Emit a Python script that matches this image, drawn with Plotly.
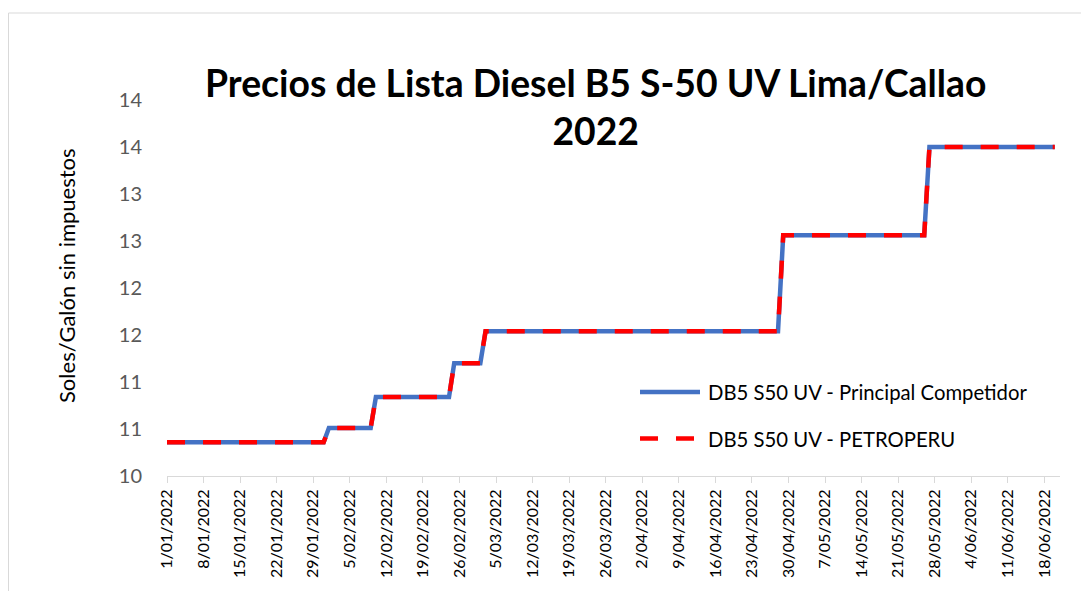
import plotly.graph_objects as go

# ---- data ----
fechas = ['2022-01-01', '2022-01-31', '2022-02-01', '2022-02-09', '2022-02-10',
          '2022-02-24', '2022-02-25', '2022-03-02', '2022-03-03', '2022-04-28',
          '2022-04-29', '2022-05-26', '2022-05-27', '2022-06-20']
principal_competidor = [10.36, 10.36, 10.51, 10.51, 10.84, 10.84, 11.20, 11.20,
                        11.54, 11.54, 12.56, 12.56, 13.50, 13.50]
petroperu = [10.36, 10.36, 10.51, 10.51, 10.84, 10.84, 11.20, 11.20,
             11.54, 11.54, 12.56, 12.56, 13.50, 13.50]

x_tickvals = ['2022-01-01', '2022-01-08', '2022-01-15', '2022-01-22', '2022-01-29',
              '2022-02-05', '2022-02-12', '2022-02-19', '2022-02-26', '2022-03-05',
              '2022-03-12', '2022-03-19', '2022-03-26', '2022-04-02', '2022-04-09',
              '2022-04-16', '2022-04-23', '2022-04-30', '2022-05-07', '2022-05-14',
              '2022-05-21', '2022-05-28', '2022-06-04', '2022-06-11', '2022-06-18']
x_ticktext = ['1/01/2022', '8/01/2022', '15/01/2022', '22/01/2022', '29/01/2022',
              '5/02/2022', '12/02/2022', '19/02/2022', '26/02/2022', '5/03/2022',
              '12/03/2022', '19/03/2022', '26/03/2022', '2/04/2022', '9/04/2022',
              '16/04/2022', '23/04/2022', '30/04/2022', '7/05/2022', '14/05/2022',
              '21/05/2022', '28/05/2022', '4/06/2022', '11/06/2022', '18/06/2022']
y_tickvals = [10, 10.5, 11, 11.5, 12, 12.5, 13, 13.5, 14]
y_ticktext = ['10', '11', '11', '12', '12', '13', '13', '14', '14']

serie_1 = 'DB5 S50 UV - Principal Competidor'
serie_2 = 'DB5 S50 UV - PETROPERU'
titulo = 'Precios de Lista Diesel B5 S-50 UV Lima/Callao<br>2022'
titulo_y = 'Soles/Galón sin impuestos'

# ---- layout geometry (page pixels; figure sits 8px in from the page edge) ----
OFF = 8
W, H = 1089 - 2 * OFF, 599 - 2 * OFF
L, R, T, B = 167 - OFF, 1060 - OFF, 100 - OFF, 476 - OFF
pw, ph = R - L, B - T

def px(x):
    return (x - OFF - L) / pw

def py(y):
    return (B - (y - OFF)) / ph

FONT = 'Lato'
BLUE = '#4472C4'
RED = '#FF0000'

fig = go.Figure()
fig.add_trace(go.Scatter(x=fechas, y=principal_competidor, mode='lines', name=serie_1,
                         line=dict(color=BLUE, width=4.5), showlegend=False))
fig.add_trace(go.Scatter(x=fechas, y=petroperu, mode='lines', name=serie_2,
                         line=dict(color=RED, width=4.5, dash='18px,18px'), showlegend=False))

fig.update_layout(
    width=W, height=H,
    margin=dict(l=L, r=W - R, t=T, b=H - B),
    paper_bgcolor='white', plot_bgcolor='white',
    font=dict(family=FONT, color='#000000'),
)
fig.update_xaxes(
    type='date', range=['2022-01-01', '2022-06-21'],
    tickmode='array', tickvals=x_tickvals, ticktext=x_ticktext,
    tickangle=-90, tickfont=dict(family=FONT, size=16, color='#000000'),
    showgrid=False, zeroline=False,
    showline=True, linecolor='#D9D9D9', linewidth=1,
    ticks='outside', ticklen=6, tickcolor='#D9D9D9', tickwidth=1,
)
fig.update_yaxes(
    range=[10, 14], tickmode='array', tickvals=y_tickvals, ticktext=y_ticktext,
    tickfont=dict(family=FONT, size=20, color='#595959'),
    showgrid=False, zeroline=False, showline=False, ticks='',
    ticklabelstandoff=24,
)

# outer chart border
fig.add_shape(type='rect', xref='paper', yref='paper',
              x0=px(8.5), x1=px(1100), y0=py(610), y1=py(13),
              line=dict(color='#D9D9D9', width=1), fillcolor='rgba(0,0,0,0)', layer='below')

# title
fig.add_annotation(text='<b>' + titulo + '</b>', xref='paper', yref='paper',
                   x=px(595), y=py(106), xanchor='center', yanchor='middle',
                   showarrow=False, font=dict(family=FONT, size=37.3, color='#000000'),
                   align='center')
# y axis title
fig.add_annotation(text=titulo_y, xref='paper', yref='paper',
                   x=px(66), y=py(276), xanchor='center', yanchor='middle',
                   textangle=-90, showarrow=False,
                   font=dict(family=FONT, size=22, color='#000000'))

# legend (drawn manually to match long sample lines)
fig.add_shape(type='line', xref='paper', yref='paper',
              x0=px(640), x1=px(700), y0=py(392), y1=py(392),
              line=dict(color=BLUE, width=4.5))
fig.add_shape(type='line', xref='paper', yref='paper',
              x0=px(640), x1=px(696), y0=py(438.5), y1=py(438.5),
              line=dict(color=RED, width=4.5, dash='18px,18px'))
fig.add_annotation(text=serie_1, xref='paper', yref='paper', x=px(706), y=py(392),
                   xanchor='left', yanchor='middle', showarrow=False,
                   font=dict(family=FONT, size=20.3, color='#000000'))
fig.add_annotation(text=serie_2, xref='paper', yref='paper', x=px(706), y=py(438.5),
                   xanchor='left', yanchor='middle', showarrow=False,
                   font=dict(family=FONT, size=20.3, color='#000000'))

fig.write_html('out.html')
